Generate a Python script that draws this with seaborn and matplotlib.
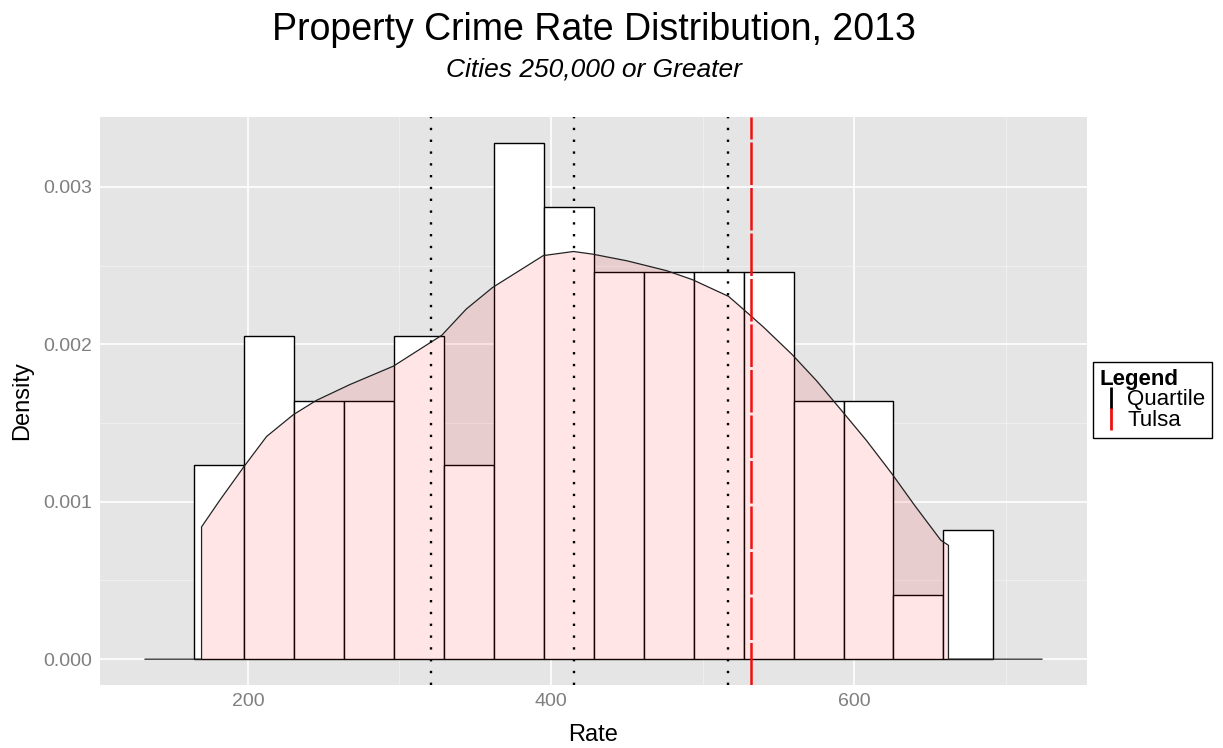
import numpy as np
import pandas as pd
import matplotlib
matplotlib.use("Agg")
import matplotlib.pyplot as plt
from matplotlib.lines import Line2D
from matplotlib.ticker import MultipleLocator
import seaborn as sns

# histogram counts per bin
bin_start = 164.6
bin_width = 32.95
bin_counts = [3, 5, 4, 4, 5, 3, 8, 7, 6, 6, 6, 6, 4, 4, 1, 2]

# kernel density curve, trimmed to the data range
dens_x = [169.4, 181.5, 197.4, 212.3, 230.0, 245.3, 267.3, 296.0, 327.9, 344.0,
          361.5, 394.9, 414.8, 427.5, 450.0, 476.3, 493.3, 517.1, 526.3, 540.0,
          558.9, 575.0, 590.8, 608.0, 624.7, 640.0, 657.2, 662.2]
dens_y = [0.00084, 0.00101, 0.001223, 0.001414, 0.001553, 0.001644, 0.001744, 0.001861, 0.002057, 0.002223,
          0.002361, 0.002563, 0.002589, 0.002572, 0.002530, 0.002467, 0.002410, 0.002304, 0.002227, 0.002110,
          0.001936, 0.001770, 0.001589, 0.001390, 0.001180, 0.000975, 0.000755, 0.000723]
dens_range = [132.0, 724.0]

quartiles = [320.6, 415.0, 517.0]
tulsa_rate = 532.2

title = "Property Crime Rate Distribution, 2013"
subtitle = "Cities 250,000 or Greater"

sns.set_theme(style="darkgrid", rc={"axes.facecolor": "#E5E5E5", "grid.color": "white",
                                    "text.color": "black", "axes.labelcolor": "black"})
plt.rcParams["font.family"] = ["Liberation Sans", "DejaVu Sans"]

n_bins = len(bin_counts)
edges = bin_start + bin_width * np.arange(n_bins + 1)
mids = (edges[:-1] + edges[1:]) / 2
hist_df = pd.DataFrame({"Rate": mids, "count": bin_counts})

fig = plt.figure(figsize=(12.23, 7.48), dpi=100)
ax = fig.add_axes([100 / 1223, 1 - 685 / 748, 987 / 1223, 568.3 / 748])

sns.histplot(data=hist_df, x="Rate", weights="count", binwidth=bin_width,
             binrange=(edges[0], edges[-1]), stat="density",
             color="white", edgecolor="black", linewidth=1.0, alpha=1, ax=ax, zorder=2)

# density fill and outline (outline runs along zero over the whole range)
ax.fill_between(dens_x, 0, dens_y, color="red", alpha=0.1, lw=0, zorder=3)
line_df = pd.DataFrame({
    "x": [dens_range[0], dens_x[0]] + dens_x + [dens_x[-1], dens_range[1]],
    "y": [0, 0] + dens_y + [0, 0],
})
sns.lineplot(data=line_df, x="x", y="y", sort=False, estimator=None,
             color="#222222", lw=0.9, ax=ax, zorder=4)

for q in quartiles:
    ax.axvline(q, color="black", lw=1.7, linestyle=(0, (1, 4)), zorder=5)
ax.axvline(tulsa_rate, color="#F01010", lw=1.8, linestyle=(0, (17, 1.2)), zorder=6)

# axes limits with ggplot-like 5% expansion
span = dens_range[1] - dens_range[0]
ax.set_xlim(dens_range[0] - 0.05 * span, dens_range[1] + 0.05 * span)
ymax = max(bin_counts) / (sum(bin_counts) * bin_width)
ax.set_ylim(-0.05 * ymax, 1.05 * ymax)

ax.xaxis.set_major_locator(MultipleLocator(200))
ax.xaxis.set_minor_locator(MultipleLocator(100))
ax.yaxis.set_major_locator(MultipleLocator(0.001))
ax.yaxis.set_minor_locator(MultipleLocator(0.0005))
ax.yaxis.set_major_formatter(matplotlib.ticker.FormatStrFormatter("%.3f"))
ax.grid(which="major", color="white", lw=1.2)
ax.grid(which="minor", color="#F2F2F2", lw=0.6)
ax.set_axisbelow(True)
ax.tick_params(which="major", length=4, width=1, color="#7F7F7F",
               labelcolor="#7F7F7F", labelsize=14, pad=2)
ax.tick_params(which="minor", length=0)
for s in ax.spines.values():
    s.set_visible(False)

ax.set_xlabel("Rate", fontsize=17, va="center")
ax.set_ylabel("Density", fontsize=17, va="center")
ax.xaxis.set_label_coords(0.5, (685 - 735) / 568.3)
ax.yaxis.set_label_coords((22 - 100) / 987, 0.5)

cx = (100 + 1087) / 2 / 1223
fig.text(cx, 1 - 30 / 748, title, ha="center", va="center", fontsize=27)
fig.text(cx, 1 - 70 / 748, subtitle, ha="center", va="center", fontsize=19, style="italic")

handles = [
    Line2D([0], [0], color="black", marker="|", ls="none", markersize=16, mew=2),
    Line2D([0], [0], color="#F01010", marker="|", ls="none", markersize=16, mew=2),
]
leg = fig.legend(handles, ["Quartile", "Tulsa"], title="Legend", loc="center left",
                 bbox_to_anchor=(1093 / 1223, 1 - 400 / 748), fontsize=16,
                 title_fontproperties={"weight": "bold", "size": 16},
                 frameon=True, fancybox=False, edgecolor="black", facecolor="white",
                 framealpha=1, handlelength=1.05, handletextpad=0.2, labelspacing=0.0,
                 borderpad=0.3, borderaxespad=0, alignment="left")
leg.get_frame().set_linewidth(1.0)

fig.savefig("out.png", dpi=100)
